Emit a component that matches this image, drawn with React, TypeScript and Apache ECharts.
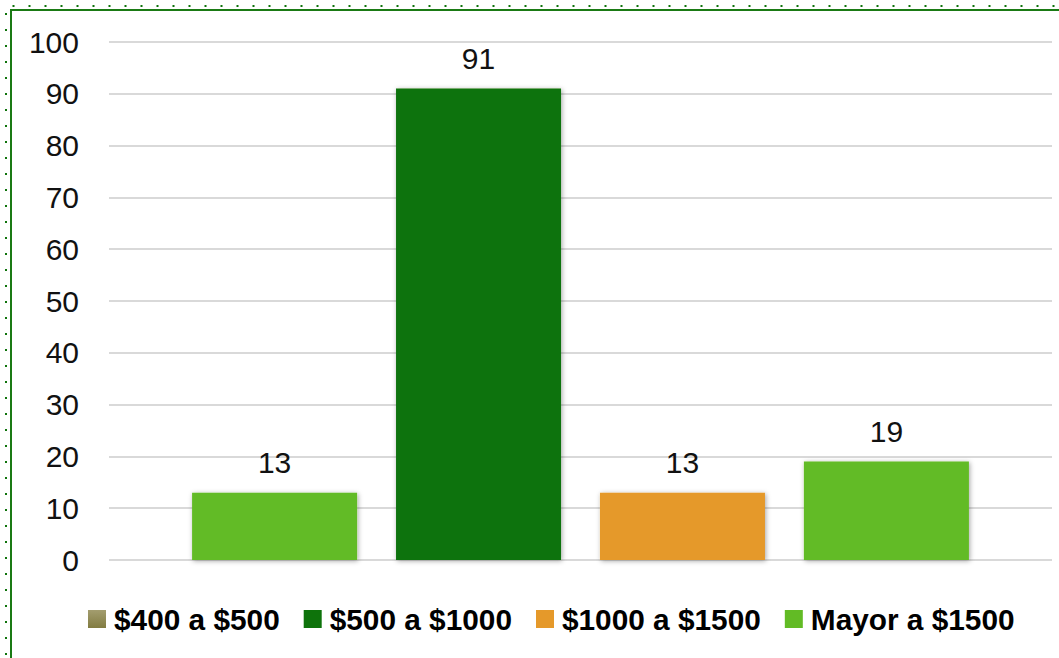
import React, { useEffect, useRef } from "react";
import * as echarts from "echarts";

const seriesNames = ["$400 a $500", "$500 a $1000", "$1000 a $1500", "Mayor a $1500"];
const seriesValues = [13, 91, 13, 19];
const legendColors: any[] = [
  { type: "linear", x: 0, y: 0, x2: 0, y2: 1, colorStops: [{ offset: 0, color: "#a39d6f" }, { offset: 1, color: "#827c42" }] },
  "#0e730b",
  "#e5992a",
  "#62bb25",
];
const barColors = ["#62bb25", "#0e730b", "#e5992a", "#62bb25"];
const yTicks = { min: 0, max: 100, interval: 10 };

export default function App() {
  const ref = useRef<HTMLDivElement>(null);
  useEffect(() => {
    if (!ref.current) return;
    const chart = echarts.init(ref.current, null, { renderer: "svg" });
    const W = 1059, H = 658;
    chart.setOption({
      animation: false,
      backgroundColor: "#ffffff",
      grid: { left: 109, right: 7, top: 42, bottom: 98 },
      legend: {
        top: 599,
        left: 83,
        itemWidth: 18,
        itemHeight: 18,
        itemGap: 24,
        icon: "rect",
        textStyle: {
          fontFamily: "Liberation Sans",
          fontWeight: "bold",
          fontSize: 29.8,
          color: "#000",
          padding: [0, 0, 0, 3],
        },
        data: seriesNames,
      },
      xAxis: {
        type: "category",
        data: [""],
        axisLine: { show: false },
        axisTick: { show: false },
        axisLabel: { show: false },
      },
      yAxis: {
        type: "value",
        min: yTicks.min,
        max: yTicks.max,
        interval: yTicks.interval,
        axisLabel: { fontFamily: "Liberation Sans", fontSize: 30, color: "#111", margin: 30 },
        splitLine: { lineStyle: { color: "#d9d9d9", width: 2 } },
        axisLine: { show: false },
        axisTick: { show: false },
      },
      series: seriesNames.map((name, i) => ({
        type: "bar",
        name,
        barWidth: 165,
        barGap: "23.6%",
        itemStyle: { color: legendColors[i] },
        data: [
          {
            value: seriesValues[i],
            itemStyle: {
              color: barColors[i],
              shadowBlur: 5,
              shadowColor: "rgba(0,0,0,0.35)",
              shadowOffsetX: 1,
              shadowOffsetY: 1,
            },
          },
        ],
        label: {
          show: true,
          position: "top",
          distance: 15,
          fontFamily: "Liberation Sans",
          fontSize: 30,
          color: "#111",
        },
      })),
      graphic: [
        { type: "line", silent: true, shape: { x1: 10, y1: 10, x2: W + 10, y2: 10 }, style: { stroke: "#1a7a14", lineWidth: 2 } },
        { type: "line", silent: true, shape: { x1: 11, y1: 9, x2: 11, y2: H + 10 }, style: { stroke: "#1a7a14", lineWidth: 2 } },
        { type: "line", silent: true, shape: { x1: 12.5, y1: 6, x2: W + 10, y2: 6 }, style: { stroke: "#0e730b", lineWidth: 2, lineDash: [2, 14] } },
        { type: "line", silent: true, shape: { x1: 6, y1: 13, x2: 6, y2: H + 10 }, style: { stroke: "#0e730b", lineWidth: 2, lineDash: [2, 14] } },
      ],
    });
    return () => chart.dispose();
  }, []);
  return (
    <div style={{ position: "fixed", left: 0, top: 0, width: 1059, height: 658 }}>
      <div ref={ref} style={{ width: 1059, height: 658 }} />
    </div>
  );
}
